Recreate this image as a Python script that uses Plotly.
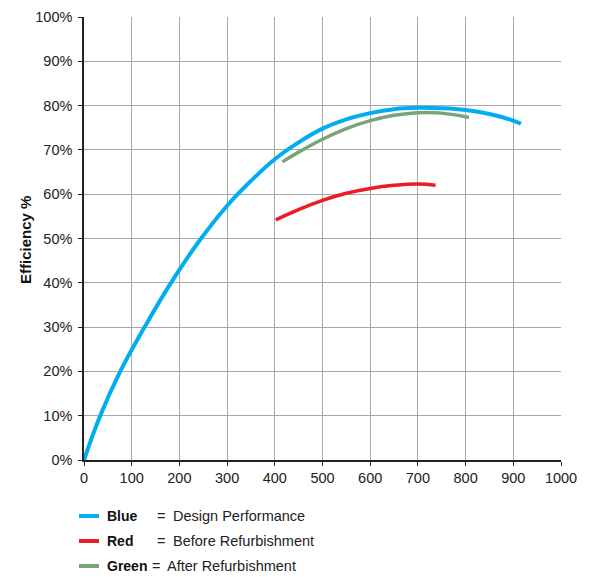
import plotly.graph_objects as go

# Data
blue_x = [0, 34, 76, 127, 180, 240, 300, 350, 400, 450, 500, 550, 600, 650, 700, 750, 800, 850, 900, 916]
blue_y = [0, 10.0, 20.0, 30.0, 39.6, 49.2, 57.4, 63.0, 67.9, 71.7, 74.8, 76.9, 78.3, 79.2, 79.5, 79.4, 79.0, 78.1, 76.6, 75.9]

red_x = [402, 450, 500, 550, 600, 650, 700, 737]
red_y = [54.2, 56.5, 58.6, 60.2, 61.3, 62.0, 62.3, 62.0]

green_x = [416, 450, 500, 550, 600, 650, 700, 750, 807]
green_y = [67.3, 69.5, 72.4, 74.8, 76.6, 77.8, 78.4, 78.3, 77.3]

x_ticks = list(range(0, 1001, 100))
y_ticks = list(range(0, 101, 10))

legend_names = ["Blue", "Red", "Green"]
legend_desc = ["Design Performance", "Before Refurbishment", "After Refurbishment"]
colors = ["#00aeef", "#ed1c24", "#78a47a"]
widths = [4, 3.5, 3.5]

FONT = "Liberation Sans, Arial, Helvetica, sans-serif"

fig = go.Figure()
for xs, ys, c, w in zip([blue_x, red_x, green_x], [blue_y, red_y, green_y], colors, widths):
    fig.add_trace(go.Scatter(x=xs, y=ys, mode="lines",
                             line=dict(color=c, width=w, shape="spline", smoothing=1.2),
                             showlegend=False, hoverinfo="skip"))

L, R, T, B = 84, 33, 17, 117
W, H = 594, 577
pw = W - L - R
ph = H - T - B

fig.update_layout(
    width=W, height=H,
    margin=dict(l=L, r=R, t=T, b=B, autoexpand=False),
    paper_bgcolor="white", plot_bgcolor="white",
    font=dict(family=FONT, size=14, color="#222"),
    showlegend=False,
)
fig.update_xaxes(range=[0, 1000], tickvals=x_ticks, ticktext=[str(v) for v in x_ticks],
                 showgrid=True, gridcolor="#a8a8a8", gridwidth=1,
                 showline=True, linecolor="#222", linewidth=1.5,
                 ticks="outside", ticklen=4, tickcolor="#222", zeroline=False,
                 automargin=False, tickfont=dict(size=14.5))
fig.update_yaxes(range=[0, 100], tickvals=y_ticks, ticktext=[f"{v}%" for v in y_ticks],
                 showgrid=True, gridcolor="#a8a8a8", gridwidth=1,
                 showline=True, linecolor="#222", linewidth=1.5,
                 ticks="outside", ticklen=4, tickcolor="#222", zeroline=False,
                 automargin=False, tickfont=dict(size=14.5), ticklabelstandoff=3)

# y-axis title
fig.add_annotation(xref="paper", yref="paper", x=(25 - L) / pw, y=(H - B - 240) / ph,
                   xanchor="center", yanchor="middle", showarrow=False, textangle=-90,
                   text="<b>Efficiency %</b>", font=dict(size=15, color="#111"))

# custom legend below the chart
rows_py = [516, 541, 566]
eq_px = [155, 155, 150]
desc_px = [171, 171, 165]
for name, desc, c, py, ex, dx in zip(legend_names, legend_desc, colors, rows_py, eq_px, desc_px):
    yp = (H - B - py) / ph
    fig.add_shape(type="line", xref="paper", yref="paper",
                  x0=(79 - L) / pw, x1=(99 - L) / pw, y0=yp, y1=yp,
                  line=dict(color=c, width=4))
    fig.add_annotation(xref="paper", yref="paper", x=(105 - L) / pw, y=yp,
                       xanchor="left", yanchor="middle", showarrow=False,
                       text=f"<b>{name}</b>", font=dict(size=14, color="#111"))
    fig.add_annotation(xref="paper", yref="paper", x=(ex - L) / pw, y=yp,
                       xanchor="left", yanchor="middle", showarrow=False,
                       text="=", font=dict(size=14.5, color="#222"))
    fig.add_annotation(xref="paper", yref="paper", x=(dx - L) / pw, y=yp,
                       xanchor="left", yanchor="middle", showarrow=False,
                       text=desc, font=dict(size=14.5, color="#222"))

fig.write_html("out.html", config={"displayModeBar": False},
               post_script="document.body.style.margin='0';document.body.style.padding='0';")
